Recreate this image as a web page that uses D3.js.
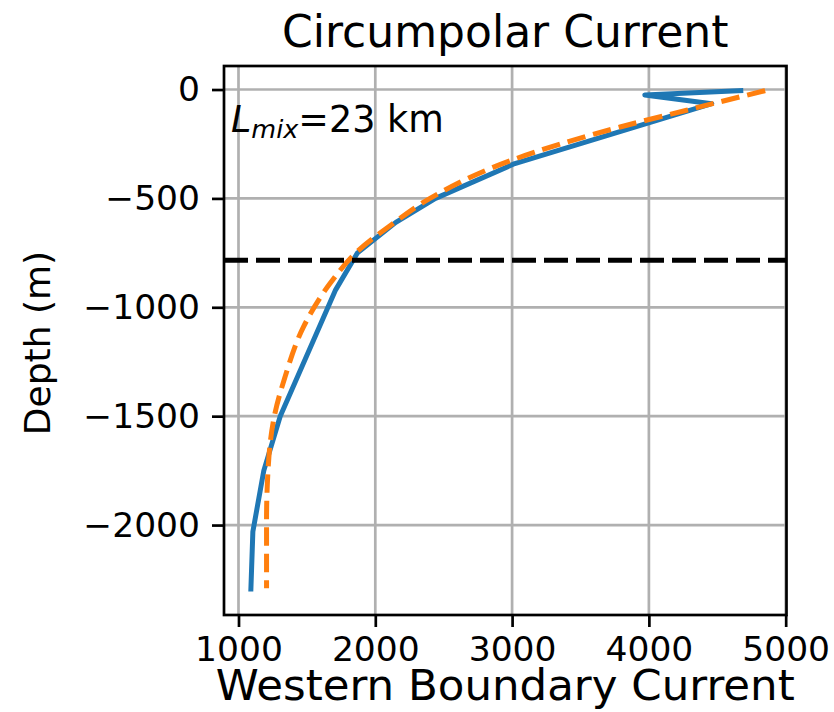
<!DOCTYPE html>
<html>
<head>
<meta charset="utf-8">
<script src="https://cdn.jsdelivr.net/npm/d3@7"></script>
<style>
    body { margin: 0; background: #fff; }
    svg { display: block; font-family: "DejaVu Sans", sans-serif; }
</style>
</head>
<body>
<svg id="chart"></svg>
<script>
// Circumpolar current profile vs western boundary current
const blueDepth = [-5, -25, -65, -340, -500, -610, -750, -920, -1500, -1750, -2030, -2305];
const blueSpeed = [4690, 3970, 4460, 3020, 2440, 2150, 1870, 1710, 1305, 1185, 1105, 1090];

const fitDepth = [-5, -95, -172, -325, -500, -620, -740, -890, -1090, -1320, -1500, -1690, -1980, -2290];
const fitSpeed = [4850, 4276, 3790, 2995, 2400, 2120, 1875, 1670, 1475, 1340, 1262, 1222, 1205, 1205];

const mixDepth = -784;
const xTicks = [1000, 2000, 3000, 4000, 5000];
const yTicks = [0, -500, -1000, -1500, -2000];

const width = 834;
const height = 712;
const plot = { left: 224, top: 66, right: 786.5, bottom: 615 };

const svg = d3.select('#chart').attr('width', width).attr('height', height);

const x = d3.scaleLinear().domain([894, 5006]).range([plot.left, plot.right]);
const y = d3.scaleLinear().domain([108, -2413]).range([plot.top, plot.bottom]);

const minus = s => String(s).replace('-', '\u2212');

// grid
const grid = svg.append('g');
grid.selectAll('.gx').data(xTicks).enter().append('line')
    .attr('x1', d => x(d)).attr('x2', d => x(d))
    .attr('y1', plot.top).attr('y2', plot.bottom)
    .attr('stroke', '#b0b0b0').attr('stroke-width', 2.7);
grid.selectAll('.gy').data(yTicks).enter().append('line')
    .attr('x1', plot.left).attr('x2', plot.right)
    .attr('y1', d => y(d)).attr('y2', d => y(d))
    .attr('stroke', '#b0b0b0').attr('stroke-width', 2.7);

// clip to the axes box
svg.append('clipPath').attr('id', 'clip').append('rect')
    .attr('x', plot.left).attr('y', plot.top)
    .attr('width', plot.right - plot.left).attr('height', plot.bottom - plot.top);

const body = svg.append('g').attr('clip-path', 'url(#clip)');

const blueLine = d3.line().x(d => x(d[1])).y(d => y(d[0]));
body.append('path')
    .datum(blueDepth.map((d, i) => [d, blueSpeed[i]]))
    .attr('d', blueLine)
    .attr('fill', 'none').attr('stroke', '#1f77b4')
    .attr('stroke-width', 5).attr('stroke-linejoin', 'round').attr('stroke-linecap', 'butt');

const fitLine = d3.line().x(d => x(d[1])).y(d => y(d[0])).curve(d3.curveMonotoneY);
body.append('path')
    .datum(fitDepth.map((d, i) => [d, fitSpeed[i]]))
    .attr('d', fitLine)
    .attr('fill', 'none').attr('stroke', '#ff7f0e')
    .attr('stroke-width', 5).attr('stroke-dasharray', '18.5,8');

body.append('line')
    .attr('x1', plot.left).attr('x2', plot.right)
    .attr('y1', y(mixDepth)).attr('y2', y(mixDepth))
    .attr('stroke', '#000').attr('stroke-width', 5).attr('stroke-dasharray', '24,8');

// axes
const xAxis = d3.axisBottom(x).tickValues(xTicks).tickSize(12).tickPadding(10).tickFormat(d => d);
const yAxis = d3.axisLeft(y).tickValues(yTicks).tickSize(12).tickPadding(12).tickFormat(d => minus(d));

const gx = svg.append('g').attr('transform', `translate(0,${plot.bottom})`).call(xAxis);
const gy = svg.append('g').attr('transform', `translate(${plot.left},0)`).call(yAxis);

[gx, gy].forEach(g => {
    g.select('.domain').remove();
    g.selectAll('.tick line').attr('stroke', '#000').attr('stroke-width', 2.7);
    g.selectAll('.tick text').attr('fill', '#000')
        .style('font-family', '"DejaVu Sans", sans-serif').style('font-size', '34.5px');
});

// frame
svg.append('rect')
    .attr('x', plot.left).attr('y', plot.top)
    .attr('width', plot.right - plot.left).attr('height', plot.bottom - plot.top)
    .attr('fill', 'none').attr('stroke', '#000').attr('stroke-width', 2.7);

// labels
svg.append('text')
    .attr('x', (plot.left + plot.right) / 2).attr('y', 47)
    .attr('text-anchor', 'middle').style('font-size', '44px')
    .text('Circumpolar Current');

svg.append('text')
    .attr('x', (plot.left + plot.right) / 2).attr('y', 700)
    .attr('text-anchor', 'middle').style('font-size', '43.5px')
    .text('Western Boundary Current');

svg.append('text')
    .attr('transform', 'translate(50,343) rotate(-90)')
    .attr('text-anchor', 'middle').style('font-size', '36px')
    .text('Depth (m)');

const note = svg.append('text').attr('x', 231).attr('y', 132).style('font-size', '36.5px');
note.append('tspan').attr('font-style', 'italic').text('L');
note.append('tspan').attr('font-style', 'italic').attr('font-size', '25.5px').attr('dy', 6).text('mix');
note.append('tspan').attr('dy', -6).text('=23 km');
</script>
</body>
</html>
